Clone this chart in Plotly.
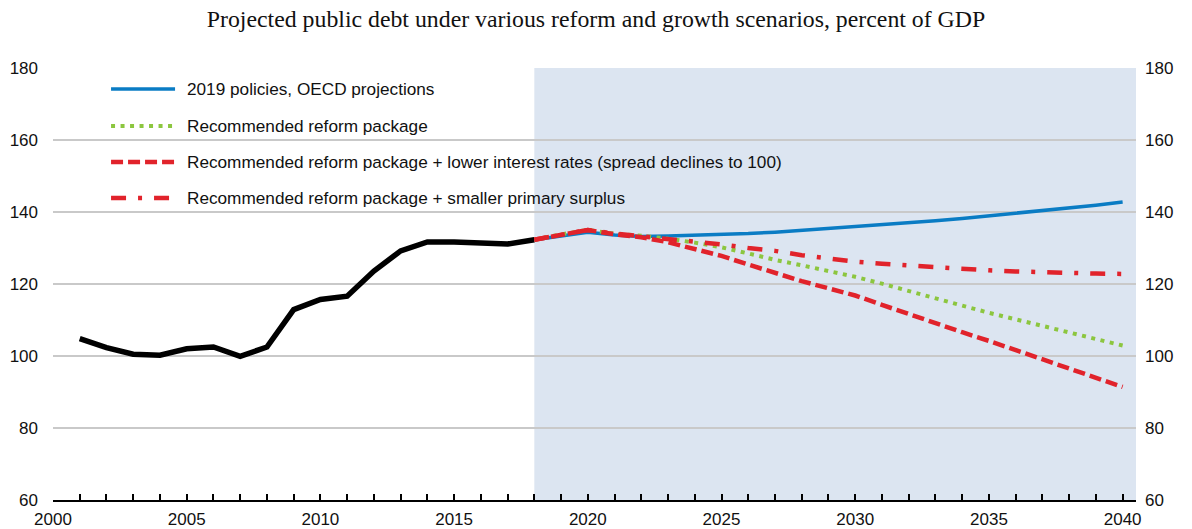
import plotly.graph_objects as go

# ---------------- data ----------------
years_hist = list(range(2001, 2019))
debt_hist = [104.8, 102.3, 100.5, 100.2, 102.0, 102.5, 99.9, 102.5, 112.9, 115.7,
             116.6, 123.6, 129.2, 131.7, 131.7, 131.4, 131.1, 132.3]

years_proj = list(range(2018, 2041))
policies_2019 = [132.3, 133.3, 134.4, 133.6, 133.2, 133.3, 133.5, 133.7, 134.0, 134.4,
                 134.9, 135.4, 135.9, 136.4, 137.0, 137.6, 138.2, 138.9, 139.6, 140.3,
                 141.1, 141.9, 142.8]
reform = [132.3, 133.8, 135.0, 134.0, 133.4, 132.6, 131.5, 130.2, 128.5, 126.7,
          125.2, 123.6, 122.0, 120.1, 118.0, 116.0, 114.0, 112.0, 110.2, 108.3,
          106.5, 104.7, 102.9]
reform_low_rates = [132.3, 133.8, 135.0, 133.8, 133.0, 131.6, 129.8, 127.8, 125.4, 123.0,
                    120.8, 118.8, 116.8, 114.2, 111.6, 109.1, 106.6, 104.2, 101.6, 99.0,
                    96.5, 94.0, 91.4]
reform_small_surplus = [132.3, 133.8, 135.0, 134.0, 133.3, 132.5, 131.7, 131.0, 130.0, 129.2,
                        128.0, 127.0, 126.2, 125.6, 125.1, 124.6, 124.2, 123.8, 123.5, 123.2,
                        123.0, 122.9, 122.8]

legend_labels = [
    "2019 policies, OECD projections",
    "Recommended reform package",
    "Recommended reform package + lower interest rates (spread declines to 100)",
    "Recommended reform package + smaller primary surplus",
]
x_tick_vals = [2000, 2005, 2010, 2015, 2020, 2025, 2030, 2035, 2040]
y_tick_vals = [60, 80, 100, 120, 140, 160, 180]
projection_start = 2018
title_text = "Projected public debt under various reform and growth scenarios, percent of GDP"

# ---------------- styles ----------------
BLUE = "#0A7CC4"
GREEN = "#8CC63F"
RED = "#E1232B"
SHADE = "#DCE5F1"
GRID = "#C9C9C9"
SANS = "Liberation Sans Narrow, Arial Narrow, Liberation Sans, Arial, sans-serif"
SERIF = "Liberation Serif, Times New Roman, serif"

styles = [
    dict(color=BLUE, width=3.5, dash="solid"),
    dict(color=GREEN, width=4, dash="4px,5.5px"),
    dict(color=RED, width=4.5, dash="12px,5px"),
    dict(color=RED, width=4.5, dash="15px,12px,4px,12px"),
]
series = [policies_2019, reform, reform_low_rates, reform_small_surplus]

X_MIN, X_MAX = 2000, 2040.5
Y_MIN, Y_MAX = 60, 180

fig = go.Figure()

fig.add_trace(go.Scatter(x=years_hist, y=debt_hist, mode="lines",
                         line=dict(color="black", width=5.5), showlegend=False,
                         hoverinfo="x+y"))
for vals, st, name in zip(series, styles, legend_labels):
    fig.add_trace(go.Scatter(x=years_proj, y=vals, mode="lines", name=name,
                             line=st, showlegend=False))

# invisible trace to anchor the right-hand axis
fig.add_trace(go.Scatter(x=years_hist, y=debt_hist, yaxis="y2", mode="lines",
                         line=dict(width=0), opacity=0, showlegend=False,
                         hoverinfo="skip"))

# projection shading
fig.add_shape(type="rect", xref="x", yref="y", x0=projection_start, x1=X_MAX,
              y0=Y_MIN, y1=Y_MAX, fillcolor=SHADE, line=dict(width=0), layer="below")

# manual legend (line samples + labels)
row_y = [0.9514, 0.8657, 0.7824, 0.6991]
for st, name, ry in zip(styles, legend_labels, row_y):
    fig.add_shape(type="line", xref="paper", yref="paper", x0=0.0536, x1=0.1127,
                  y0=ry, y1=ry, line=st, layer="above")
    fig.add_annotation(xref="paper", yref="paper", x=0.1215, y=ry, text=name,
                       showarrow=False, xanchor="left", yanchor="middle",
                       font=dict(family=SANS, size=17.2, color="#111111"))

fig.update_layout(
    width=1192, height=529,
    margin=dict(l=53, r=56, t=68, b=29),
    paper_bgcolor="white", plot_bgcolor="white",
    title=dict(text=title_text, x=0.5, xanchor="center", y=0.965, yanchor="middle",
               font=dict(family=SERIF, size=23.8, color="#111111")),
    showlegend=False,
    xaxis=dict(range=[X_MIN, X_MAX], tickvals=x_tick_vals, automargin=False,
               ticks="inside", ticklen=6, tickwidth=1.5, tickcolor="black",
               minor=dict(dtick=1, tick0=2000, ticks="inside", ticklen=6,
                          tickwidth=1.5, tickcolor="black", showgrid=False),
               showline=True, linecolor="black", linewidth=2,
               showgrid=False, zeroline=False,
               tickfont=dict(family=SANS, size=17, color="#111111"),
               ticklabelstandoff=3),
    yaxis=dict(range=[Y_MIN, Y_MAX], tickvals=y_tick_vals, automargin=False,
               showgrid=True, gridcolor=GRID, gridwidth=1.5,
               zeroline=False, showline=False, ticks="",
               tickfont=dict(family=SANS, size=17, color="#111111"),
               ticklabelstandoff=14),
    yaxis2=dict(range=[Y_MIN, Y_MAX], tickvals=y_tick_vals, overlaying="y",
                side="right", showgrid=False, zeroline=False, showline=False,
                automargin=False,
                ticks="", tickfont=dict(family=SANS, size=17, color="#111111"),
                ticklabelstandoff=8),
)

fig.write_html("out.html", config={"displayModeBar": False},
               post_script="document.body.style.margin='0';")
